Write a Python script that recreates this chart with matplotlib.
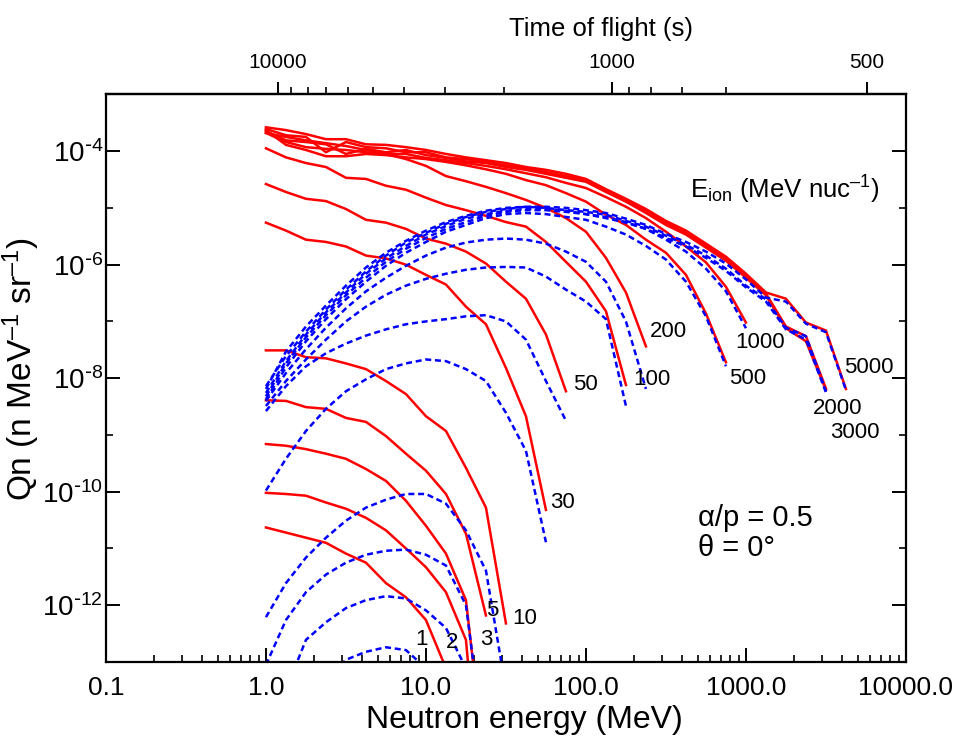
import numpy as np
import matplotlib
matplotlib.use('Agg')
import matplotlib.pyplot as plt
from matplotlib.ticker import NullFormatter, FixedLocator

# narrow face: the reference lettering is tall and thin
plt.rcParams['font.family'] = ['Liberation Sans Narrow', 'Liberation Sans', 'DejaVu Sans']
plt.rcParams['mathtext.fontset'] = 'custom'
plt.rcParams['mathtext.rm'] = 'Liberation Sans Narrow'
plt.rcParams['mathtext.default'] = 'regular'

# log10(Qn) at neutron energies 10**(k/8) MeV, k = 0, 1, 2, ...
ion_labels = ['1', '2', '3', '5', '10', '30', '50', '100', '200', '500',
              '1000', '2000', '3000', '5000']

red = {
    '1': [-10.63, -10.72, -10.81, -10.90, -11.09, -11.25, -11.61, -11.86, -12.26, -13.11],
    '2': [-10.02, -10.04, -10.07, -10.19, -10.30, -10.46, -10.68, -11.00, -11.33, -11.77,
          -12.61, -16.5],
    '3': [-9.16, -9.19, -9.25, -9.33, -9.42, -9.60, -9.81, -10.16, -10.60, -11.09,
          -11.91, -15.0],
    '5': [-8.39, -8.40, -8.51, -8.54, -8.70, -8.77, -9.02, -9.33, -9.63, -10.04,
          -10.74, -12.18],
    '10': [-7.51, -7.51, -7.63, -7.65, -7.74, -7.84, -8.05, -8.28, -8.67, -8.93,
           -9.58, -10.28, -12.32],
    '30': [-5.26, -5.40, -5.56, -5.60, -5.68, -5.84, -5.89, -6.00, -6.18, -6.35,
           -6.74, -7.05, -7.82, -8.67, -10.32],
    '50': [-4.58, -4.72, -4.84, -4.88, -5.02, -5.21, -5.26, -5.37, -5.54, -5.63,
           -5.77, -5.98, -6.30, -6.60, -7.23, -8.23],
    '100': [-3.95, -4.11, -4.21, -4.28, -4.47, -4.49, -4.61, -4.68, -4.82, -4.95,
            -5.04, -5.14, -5.25, -5.33, -5.60, -5.95, -6.30, -6.82, -8.12],
    '200': [-3.68, -3.75, -3.81, -3.86, -3.91, -3.98, -4.05, -4.14, -4.26, -4.44,
            -4.53, -4.63, -4.74, -4.86, -5.00, -5.18, -5.42, -5.88, -6.49, -7.44],
    '500': [-3.63, -3.89, -3.98, -4.09, -4.09, -4.05, -4.07, -4.11, -4.14, -4.19,
            -4.25, -4.32, -4.40, -4.51, -4.60, -4.74, -4.89, -5.12, -5.30, -5.56,
            -5.79, -6.18, -6.86, -7.72],
    '1000': [-3.68, -3.84, -3.93, -3.96, -3.98, -4.02, -4.05, -4.05, -4.12, -4.16,
             -4.21, -4.26, -4.32, -4.39, -4.46, -4.56, -4.65, -4.81, -4.98, -5.18,
             -5.42, -5.68, -5.96, -6.39, -7.02],
    '2000': [-3.65, -3.81, -3.84, -3.88, -4.05, -3.96, -4.02, -3.98, -4.07, -4.12,
             -4.18, -4.21, -4.28, -4.33, -4.40, -4.47, -4.54, -4.72, -4.89, -5.09,
             -5.30, -5.47, -5.70, -5.93, -6.23, -6.54, -7.12, -7.35, -8.21],
    '3000': [-3.61, -3.72, -3.75, -4.02, -3.84, -3.93, -3.95, -4.02, -4.02, -4.11,
             -4.14, -4.19, -4.25, -4.30, -4.37, -4.44, -4.51, -4.70, -4.88, -5.05,
             -5.26, -5.44, -5.67, -5.89, -6.19, -6.51, -7.09, -7.26, -8.18],
    '5000': [-3.58, -3.63, -3.70, -3.79, -3.79, -3.88, -3.89, -3.93, -3.98, -4.05,
             -4.11, -4.16, -4.21, -4.28, -4.33, -4.40, -4.49, -4.67, -4.84, -5.02,
             -5.23, -5.40, -5.63, -5.86, -6.16, -6.49, -6.60, -7.02, -7.16, -8.19],
}

blue = {
    '2': [-15.07, -14.37, -13.84, -13.32, -12.96, -12.82, -12.74, -12.79, -13.11, -13.67,
          -14.72],
    '3': [-14.02, -13.49, -12.61, -12.30, -12.05, -11.91, -11.84, -11.88, -12.09, -12.40,
          -13.11, -14.72],
    '5': [-13.05, -12.26, -11.77, -11.46, -11.25, -11.11, -11.04, -11.02, -11.11, -11.30,
          -12.00, -14.72],
    '10': [-12.21, -11.61, -11.16, -10.81, -10.51, -10.28, -10.14, -10.04, -10.04, -10.21,
           -10.68, -11.39, -13.49],
    '30': [-9.98, -9.42, -8.93, -8.54, -8.23, -8.02, -7.84, -7.74, -7.67, -7.70,
           -7.84, -8.05, -8.61, -9.28, -10.89],
    '50': [-8.58, -8.14, -7.79, -7.56, -7.39, -7.25, -7.14, -7.05, -7.00, -6.96,
           -6.91, -6.89, -7.00, -7.32, -8.05, -8.75],
    '100': [-8.49, -8.05, -7.67, -7.32, -7.00, -6.74, -6.53, -6.37, -6.25, -6.16,
            -6.09, -6.05, -6.04, -6.05, -6.21, -6.44, -6.65, -6.96, -8.49],
    '200': [-8.40, -7.91, -7.49, -7.11, -6.77, -6.47, -6.23, -6.02, -5.84, -5.70,
            -5.61, -5.56, -5.54, -5.56, -5.63, -5.77, -5.95, -6.30, -7.00, -8.19],
    '500': [-8.37, -7.81, -7.35, -6.96, -6.61, -6.30, -6.02, -5.79, -5.60, -5.42,
            -5.30, -5.18, -5.11, -5.09, -5.11, -5.16, -5.21, -5.33, -5.47, -5.67,
            -5.91, -6.30, -6.91, -7.79],
    '1000': [-8.32, -7.74, -7.28, -6.89, -6.54, -6.23, -5.95, -5.72, -5.53, -5.37,
             -5.25, -5.14, -5.07, -5.04, -5.04, -5.07, -5.11, -5.16, -5.25, -5.37,
             -5.56, -5.77, -6.07, -6.47, -7.12],
    '2000': [-8.26, -7.70, -7.23, -6.84, -6.49, -6.16, -5.89, -5.67, -5.47, -5.32,
             -5.19, -5.11, -5.05, -5.02, -5.02, -5.05, -5.11, -5.18, -5.26, -5.37,
             -5.53, -5.68, -5.88, -6.11, -6.40, -6.65, -7.14, -7.32, -8.25],
    '3000': [-8.14, -7.61, -7.18, -6.79, -6.44, -6.12, -5.84, -5.61, -5.44, -5.28,
             -5.16, -5.07, -5.02, -4.98, -5.00, -5.04, -5.07, -5.12, -5.23, -5.33,
             -5.49, -5.65, -5.84, -6.07, -6.37, -6.61, -7.11, -7.26, -8.23],
    '5000': [-8.19, -7.53, -7.09, -6.72, -6.37, -6.05, -5.79, -5.58, -5.40, -5.25,
             -5.14, -5.05, -5.00, -4.98, -4.98, -5.00, -5.04, -5.09, -5.19, -5.30,
             -5.46, -5.60, -5.77, -5.98, -6.26, -6.58, -6.65, -7.04, -7.19, -8.21],
}

# curve labels: (neutron energy MeV, Qn)
label_pos = {
    '1': (9.44, 10**-12.61), '2': (14.5, 10**-12.65), '3': (24.0, 10**-12.61),
    '5': (25.9, 10**-12.09), '10': (41.6, 10**-12.23), '30': (71.8, 10**-10.19),
    '50': (98.6, 10**-8.11), '100': (258, 10**-8.02), '200': (330, 10**-7.175),
    '500': (1029, 10**-8.0), '1000': (1223, 10**-7.37), '2000': (3758, 10**-8.53),
    '3000': (4800, 10**-8.96), '5000': (5870, 10**-7.81),
}

# time of flight axis (s) and matching neutron energy (MeV)
tof_major = ['10000', '1000', '500']
tof_major_e = [1.19, 145.0, 5700.0]
tof_minor_e = [1.44, 1.83, 2.39, 3.25, 4.68, 7.33, 13.1, 30.7, 186.0, 255.0, 400.0, 752.0]

x_ticks = [0.1, 1.0, 10.0, 100.0, 1000.0, 10000.0]
x_ticklabels = ['0.1', '1.0', '10.0', '100.0', '1000.0', '10000.0']
y_major = [-12, -10, -8, -6, -4]
y_minor = [-13, -11, -9, -7, -5, -3]


def energies(n):
    return 10 ** (np.arange(n) / 8.0)


fig = plt.figure(figsize=(9.65, 7.43), dpi=100)
ax = fig.add_axes([0.1098, 0.109, 0.829, 0.764])

for name in ion_labels:
    if name in red:
        v = np.array(red[name])
        ax.plot(energies(len(v)), 10 ** v, color='#ff0000', lw=1.8)
for name in ion_labels:
    if name in blue:
        v = np.array(blue[name])
        ax.plot(energies(len(v)), 10 ** v, color='#0000ff', lw=1.8,
                linestyle=(0, (2.4, 1.5)))

ax.set_xscale('log')
ax.set_yscale('log')
ax.set_xlim(0.1, 10000)
ax.set_ylim(1e-13, 1e-3)

ax.set_xticks(x_ticks)
ax.set_xticklabels(x_ticklabels)
ax.set_yticks([10.0 ** p for p in y_major])
# short hyphen in the exponent, as in the reference
ax.set_yticklabels(['10$^{\\text{-}%d}$' % -p for p in y_major])
ax.yaxis.set_minor_locator(FixedLocator([10.0 ** p for p in y_minor]))
ax.yaxis.set_minor_formatter(NullFormatter())
ax.tick_params(axis='both', which='major', direction='in', length=10, width=1.4,
               right=True, top=False)
ax.tick_params(axis='x', which='major', pad=10, labelsize=19)
ax.tick_params(axis='y', which='major', pad=2, labelsize=20)
ax.tick_params(axis='both', which='minor', direction='in', length=5, width=1.2,
               right=True, top=False)
for s in ax.spines.values():
    s.set_linewidth(1.6)

sec = ax.secondary_xaxis('top')
sec.set_xticks(tof_major_e)
sec.set_xticklabels(tof_major)
sec.set_xticks(tof_minor_e, minor=True)
sec.xaxis.set_minor_formatter(NullFormatter())
sec.tick_params(which='major', direction='out', length=9, width=1.4, labelsize=15, pad=7)
sec.tick_params(which='minor', direction='out', length=5, width=1.2)
sec.spines['top'].set_linewidth(1.6)

ax.set_xlabel('Neutron energy (MeV)', fontsize=23)
ax.xaxis.set_label_coords(0.5225, -0.075, transform=ax.transAxes)
ax.set_ylabel('Qn (n MeV$^{\u20131}$ sr$^{\u20131}$)', fontsize=24,
              family=['Liberation Sans', 'DejaVu Sans'])
ax.yaxis.set_label_coords(-0.08, 0.517, transform=ax.transAxes)
sec.set_xlabel('Time of flight (s)', fontsize=18.5)
sec.xaxis.set_label_coords(0.619, 1.102, transform=ax.transAxes)

for name, (xe, yq) in label_pos.items():
    ax.text(xe, yq, name, fontsize=16, ha='center', va='center')

ax.text(1754, 10 ** -4.68, 'E$_{ion}$ (MeV nuc$^{\u20131}$)', fontsize=18.5,
        ha='center', va='center')
ax.text(500, 10 ** -10.46, '\u03b1/p = 0.5', fontsize=21, ha='left', va='center')
ax.text(500, 10 ** -11.0, '\u03b8 = 0\u00b0', fontsize=21, ha='left', va='center')

fig.savefig('out.png', dpi=100)
